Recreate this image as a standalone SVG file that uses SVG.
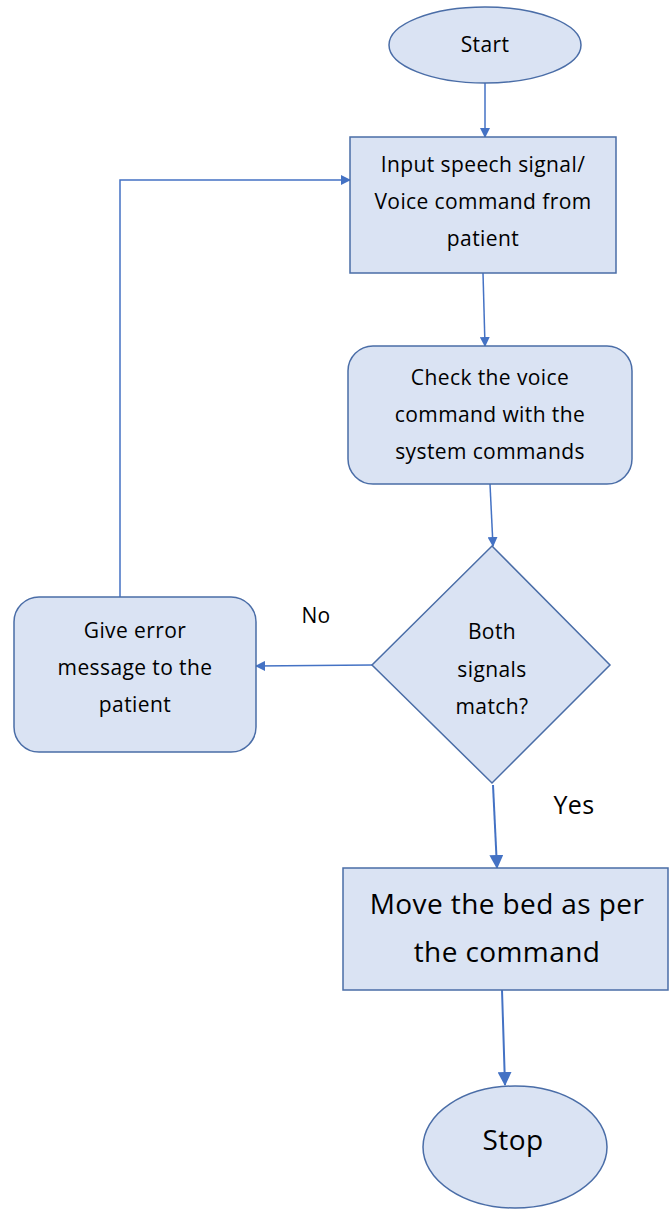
<svg xmlns="http://www.w3.org/2000/svg" width="669" height="1209" viewBox="0 0 669 1209">
<style>
.n{fill:#dae3f3;stroke:#4a6da7;stroke-width:1.5}
.t{font-family:"Open Sans",Lato,sans-serif;fill:#000;text-anchor:middle;letter-spacing:0.4px}
.s{font-size:21px}
.b{font-size:28px}
.c{stroke:#4472c4;stroke-width:1.5;fill:none}
</style>
<defs>
<marker id="a" markerWidth="10" markerHeight="10" refX="9" refY="5" orient="auto" markerUnits="userSpaceOnUse" viewBox="0 0 10 10"><path d="M0,0L10,5L0,10z" fill="#4472c4"/></marker>
<marker id="a2" markerWidth="14" markerHeight="14" refX="13" refY="7" orient="auto" markerUnits="userSpaceOnUse" viewBox="0 0 14 14"><path d="M0,0L14,7L0,14z" fill="#4472c4"/></marker>
</defs>
<g id="connectors">
<path class="c" d="M485,83L485,137" marker-end="url(#a)"/>
<path class="c" d="M483,273L485,346" marker-end="url(#a)"/>
<path class="c" d="M490,484L493,546" marker-end="url(#a)"/>
<path class="c" d="M372,665L256,666" marker-end="url(#a)"/>
<path class="c" d="M120,597L120,180L350,180" marker-end="url(#a)"/>
<path class="c" style="stroke-width:2" d="M493,785L497,868" marker-end="url(#a2)"/>
<path class="c" style="stroke-width:2" d="M502,990L505,1085" marker-end="url(#a2)"/>
</g>
<g id="start"><ellipse class="n" cx="485" cy="45" rx="96" ry="38"/><text class="t s" x="485" y="52">Start</text></g>
<g id="input"><rect class="n" x="350" y="137" width="266" height="136"/>
<text class="t s" x="483" y="172">Input speech signal/</text>
<text class="t s" x="483" y="209">Voice command from</text>
<text class="t s" x="483" y="246">patient</text></g>
<g id="check"><rect class="n" x="348" y="346" width="284" height="138" rx="25"/>
<text class="t s" x="490" y="385">Check the voice</text>
<text class="t s" x="490" y="422">command with the</text>
<text class="t s" x="490" y="459">system commands</text></g>
<g id="decision"><path class="n" d="M492,546L610,665L492,783L372,665Z"/>
<text class="t s" x="492" y="639">Both</text>
<text class="t s" x="492" y="677">signals</text>
<text class="t s" x="492" y="714">match?</text></g>
<g id="error"><rect class="n" x="14" y="597" width="242" height="155" rx="25"/>
<text class="t s" x="135" y="638">Give error</text>
<text class="t s" x="135" y="675">message to the</text>
<text class="t s" x="135" y="712">patient</text></g>
<text class="t s" x="316" y="623">No</text>
<text class="t" style="font-size:25px" x="574" y="814">Yes</text>
<g id="move"><rect class="n" x="343" y="868" width="325" height="122"/>
<text class="t b" x="507" y="914">Move the bed as per</text>
<text class="t b" x="507" y="962">the command</text></g>
<g id="stop"><ellipse class="n" cx="515" cy="1147" rx="92" ry="61"/><text class="t b" x="513" y="1150">Stop</text></g>
</svg>
